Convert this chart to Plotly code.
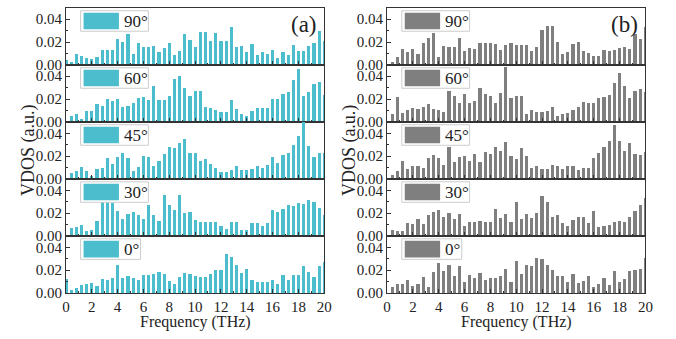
import plotly.graph_objects as go

W, H = 676, 339

freq = [0, 0.4, 0.8, 1.2, 1.6, 2.0, 2.4, 2.8, 3.2, 3.6, 4.0, 4.4, 4.8, 5.2, 5.6, 6.0, 6.4, 6.8,
        7.2, 7.6, 8.0, 8.4, 8.8, 9.2, 9.6, 10.0, 10.4, 10.8, 11.2, 11.6, 12.0, 12.4, 12.8, 13.2,
        13.6, 14.0, 14.4, 14.8, 15.2, 15.6, 16.0, 16.4, 16.8, 17.2, 17.6, 18.0, 18.4, 18.8, 19.2,
        19.6, 20.0]

angles = ["90°", "60°", "45°", "30°", "0°"]
x_ticks = [0, 2, 4, 6, 8, 10, 12, 14, 16, 18, 20]
y_ticks = [0, 0.02, 0.04]
y_ticktext = ["0.00", "0.02", "0.04"]

# Panel (a)
a90 = [0.0045, 0.0025, 0.010, 0.0075, 0.0065, 0.0057, 0.007, 0.013, 0.013, 0.013, 0.023, 0.020,
       0.0275, 0.010, 0.019, 0.016, 0.016, 0.017, 0.011, 0.0145, 0.019, 0.009, 0.012, 0.0275,
       0.022, 0.016, 0.029, 0.029, 0.021, 0.028, 0.021, 0.021, 0.033, 0.016, 0.0165, 0.011,
       0.018, 0.009, 0.011, 0.0095, 0.013, 0.0065, 0.011, 0.009, 0.0175, 0.012, 0.012, 0.017,
       0.019, 0.030, 0.021]
a60 = [0, 0.005, 0.0068, 0.003, 0.0097, 0.010, 0.016, 0.014, 0.0205, 0.0185, 0.0205, 0.0135,
       0.014, 0.0168, 0.0215, 0.022, 0.019, 0.032, 0.0195, 0.019, 0.023, 0.038, 0.040, 0.030,
       0.023, 0.027, 0.027, 0.0135, 0.0127, 0.0103, 0.009, 0.009, 0.0195, 0.011, 0.007, 0.005,
       0.0097, 0.012, 0.0124, 0.012, 0.0205, 0.0205, 0.0247, 0.026, 0.0365, 0.0465, 0.023, 0.026,
       0.033, 0.0347, 0.024]
a45 = [0, 0.005, 0.0074, 0.0106, 0.0068, 0.0026, 0.009, 0.010, 0.0185, 0.0135, 0.0197, 0.023,
       0.018, 0.007, 0.0106, 0.0206, 0.019, 0.0118, 0.0156, 0.022, 0.028, 0.027, 0.0315, 0.0347,
       0.0226, 0.0224, 0.016, 0.0174, 0.0135, 0.010, 0.0065, 0.006, 0.0076, 0.0118, 0.008, 0.0076,
       0.0085, 0.011, 0.0094, 0.0124, 0.0194, 0.014, 0.021, 0.0226, 0.030, 0.0376, 0.053, 0.029,
       0.019, 0.0224, 0.023]
a30 = [0, 0.0068, 0.008, 0.0097, 0.0044, 0.005, 0.013, 0.031, 0.031, 0.029, 0.022, 0.015, 0.019,
       0.021, 0.018, 0.015, 0.027, 0.018, 0.013, 0.036, 0.027, 0.023, 0.036, 0.020, 0.021, 0.014,
       0.012, 0.012, 0.012, 0.012, 0.009, 0.0065, 0.012, 0.012, 0.005, 0.005, 0.011, 0.011, 0.009,
       0.011, 0.023, 0.021, 0.024, 0.027, 0.026, 0.029, 0.028, 0.032, 0.030, 0.025, 0.018]
a0 = [0.0126, 0.003, 0.004, 0.007, 0.008, 0.009, 0.006, 0.0126, 0.011, 0.0135, 0.025, 0.013,
      0.0147, 0.013, 0.011, 0.0156, 0.0156, 0.017, 0.0185, 0.017, 0.0106, 0.008, 0.0138, 0.0176,
      0.017, 0.015, 0.014, 0.014, 0.017, 0.0206, 0.0206, 0.034, 0.032, 0.025, 0.0176, 0.021,
      0.0118, 0.010, 0.0097, 0.0097, 0.0118, 0.0076, 0.016, 0.011, 0.0156, 0.0156, 0.024, 0.018,
      0.014, 0.024, 0.027]

# Panel (b)
b90 = [0, 0.0024, 0.007, 0.0143, 0.011, 0.014, 0.010, 0.019, 0.0236, 0.028, 0.0072, 0.0164,
       0.0158, 0.016, 0.024, 0.0125, 0.015, 0.0137, 0.019, 0.019, 0.0197, 0.0185, 0.013, 0.0173,
       0.019, 0.0173, 0.0173, 0.0173, 0.012, 0.0155, 0.0307, 0.0346, 0.0346, 0.0206, 0.0095,
       0.0113, 0.0185, 0.020, 0.012, 0.0107, 0.0078, 0.0075, 0.013, 0.012, 0.013, 0.015, 0.016,
       0.0137, 0.0275, 0.023, 0.0334]
b60 = [0, 0.0068, 0.0218, 0.008, 0.0103, 0.0126, 0.0115, 0.013, 0.016, 0.0118, 0.0106, 0.0085,
       0.0276, 0.0232, 0.0165, 0.025, 0.0165, 0.018, 0.030, 0.0247, 0.023, 0.0165, 0.0256, 0.048,
       0.021, 0.023, 0.023, 0.0068, 0.0103, 0.0085, 0.0085, 0.0097, 0.0135, 0.0056, 0.007, 0.0076,
       0.0106, 0.0135, 0.0173, 0.0165, 0.017, 0.021, 0.0218, 0.024, 0.034, 0.043, 0.032, 0.021,
       0.0276, 0.029, 0.026]
b45 = [0, 0.0038, 0.0074, 0.0156, 0.009, 0.0118, 0.0118, 0.0097, 0.018, 0.0215, 0.0185, 0.012,
       0.028, 0.015, 0.0194, 0.0206, 0.0156, 0.022, 0.0147, 0.0235, 0.0218, 0.028, 0.025, 0.0324,
       0.020, 0.0176, 0.0268, 0.0206, 0.0094, 0.0118, 0.0088, 0.0088, 0.0124, 0.0118, 0.0088,
       0.0115, 0.0115, 0.008, 0.0097, 0.0097, 0.018, 0.023, 0.0285, 0.033, 0.047, 0.0335, 0.0244,
       0.032, 0.022, 0.021, 0.0235]
b30 = [0, 0.0053, 0.0044, 0.0044, 0.011, 0.0106, 0.0147, 0.0106, 0.0185, 0.0215, 0.023, 0.0165,
       0.020, 0.0147, 0.019, 0.0088, 0.0124, 0.0124, 0.0132, 0.0124, 0.0124, 0.024, 0.0162, 0.019,
       0.0126, 0.030, 0.015, 0.019, 0.0162, 0.020, 0.035, 0.0294, 0.017, 0.0185, 0.011, 0.0088,
       0.0138, 0.017, 0.0165, 0.0118, 0.022, 0.0082, 0.0088, 0.0094, 0.0126, 0.0132, 0.0124,
       0.017, 0.022, 0.0274, 0.033]
b0 = [0, 0.0054, 0.0075, 0.0075, 0.0115, 0.006, 0.0078, 0.0142, 0.0057, 0.0185, 0.0266, 0.019,
      0.0248, 0.0145, 0.0233, 0.0097, 0.016, 0.0133, 0.0175, 0.0115, 0.0136, 0.0136, 0.0145,
      0.0215, 0.010, 0.0284, 0.017, 0.025, 0.024, 0.0305, 0.0296, 0.025, 0.020, 0.0145, 0.0145,
      0.0097, 0.017, 0.0088, 0.0106, 0.0145, 0.0054, 0.0078, 0.013, 0.007, 0.0197, 0.0097,
      0.0127, 0.019, 0.0206, 0.021, 0.031]

panels = [
    dict(series=[a90, a60, a45, a30, a0], color="#4BBDCD", label="(a)", x0=63, x1=326),
    dict(series=[b90, b60, b45, b30, b0], color="#7F7F7F", label="(b)", x0=390, x1=653),
]

TOP, BOT = 8, 300
row_h = (BOT - TOP) / 5
FONT = "Times New Roman"
LINE = "#333333"

def px(x):
    return x / W

def py(y):
    return 1 - y / H

fig = go.Figure()
layout = dict(
    width=W, height=H, margin=dict(l=0, r=0, t=0, b=0),
    paper_bgcolor="white", plot_bgcolor="white", showlegend=False,
    font=dict(family=FONT, size=15, color="#222"),
    bargap=0,
)
shapes = []
annotations = []

for p, panel in enumerate(panels):
    for r in range(5):
        n = p * 5 + r + 1
        xs = "" if n == 1 else str(n)
        top = TOP + r * row_h
        bot = top + row_h
        fig.add_trace(go.Bar(
            x=freq, y=panel["series"][r], width=0.25,
            marker=dict(color=panel["color"], line=dict(width=0)),
            xaxis="x" + xs, yaxis="y" + xs, hoverinfo="x+y",
        ))
        layout["xaxis" + xs] = dict(
            domain=[px(panel["x0"]), px(panel["x1"])], range=[0, 20], anchor="y" + xs,
            tickvals=x_ticks, ticks="inside", ticklen=4, tickcolor=LINE,
            minor=dict(dtick=1, ticks="inside", ticklen=2, tickcolor=LINE),
            showticklabels=(r == 4), tickfont=dict(size=15, family=FONT),
            ticklabelstandoff=0,
            showline=True, mirror=True, linecolor=LINE, linewidth=1,
            showgrid=False, zeroline=False, fixedrange=True,
        )
        layout["yaxis" + xs] = dict(
            domain=[py(bot), py(top)], range=[0, 0.05], anchor="x" + xs,
            tickvals=y_ticks, ticktext=y_ticktext, ticks="inside", ticklen=4, tickcolor=LINE,
            minor=dict(dtick=0.01, ticks="inside", ticklen=2, tickcolor=LINE),
            tickfont=dict(size=15, family=FONT),
            showline=True, mirror=True, linecolor=LINE, linewidth=1,
            showgrid=False, zeroline=False, fixedrange=True,
        )
        # legend box
        bx0 = panel["x0"] + 15
        text_x = panel["x0"] + 57
        label = angles[r]
        bx1 = text_x + (27 if len(label) > 2 else 19)
        shapes.append(dict(type="rect", xref="paper", yref="paper",
                           x0=px(bx0), x1=px(bx1), y0=py(top + 24), y1=py(top + 3),
                           fillcolor="white", line=dict(color="#CCCCCC", width=1), layer="above"))
        shapes.append(dict(type="rect", xref="paper", yref="paper",
                           x0=px(bx0 + 3), x1=px(bx0 + 39), y0=py(top + 22), y1=py(top + 5),
                           fillcolor=panel["color"], line=dict(width=0), layer="above"))
        annotations.append(dict(text=label, xref="paper", yref="paper", x=px(text_x), y=py(top + 14),
                                xanchor="left", yanchor="middle", showarrow=False,
                                font=dict(size=17, family=FONT, color="#222")))
    # panel label
    annotations.append(dict(text=panel["label"], xref="paper", yref="paper",
                            x=px(panel["x1"] - 5), y=py(TOP + 17), xanchor="right", yanchor="middle",
                            showarrow=False, font=dict(size=23, family=FONT, color="#222")))
    # axis titles
    annotations.append(dict(text="Frequency (THz)", xref="paper", yref="paper",
                            x=px((panel["x0"] + panel["x1"]) / 2), y=py(329.5), xanchor="center",
                            yanchor="middle", showarrow=False,
                            font=dict(size=16, family=FONT, color="#222")))
    annotations.append(dict(text="VDOS (a.u.)", xref="paper", yref="paper",
                            x=px(panel["x0"] - 38), y=py((TOP + BOT) / 2), xanchor="center",
                            yanchor="middle", textangle=-90, showarrow=False,
                            font=dict(size=18, family=FONT, color="#222")))

layout["shapes"] = shapes
layout["annotations"] = annotations
fig.update_layout(**layout)
fig.write_html("out.html")
